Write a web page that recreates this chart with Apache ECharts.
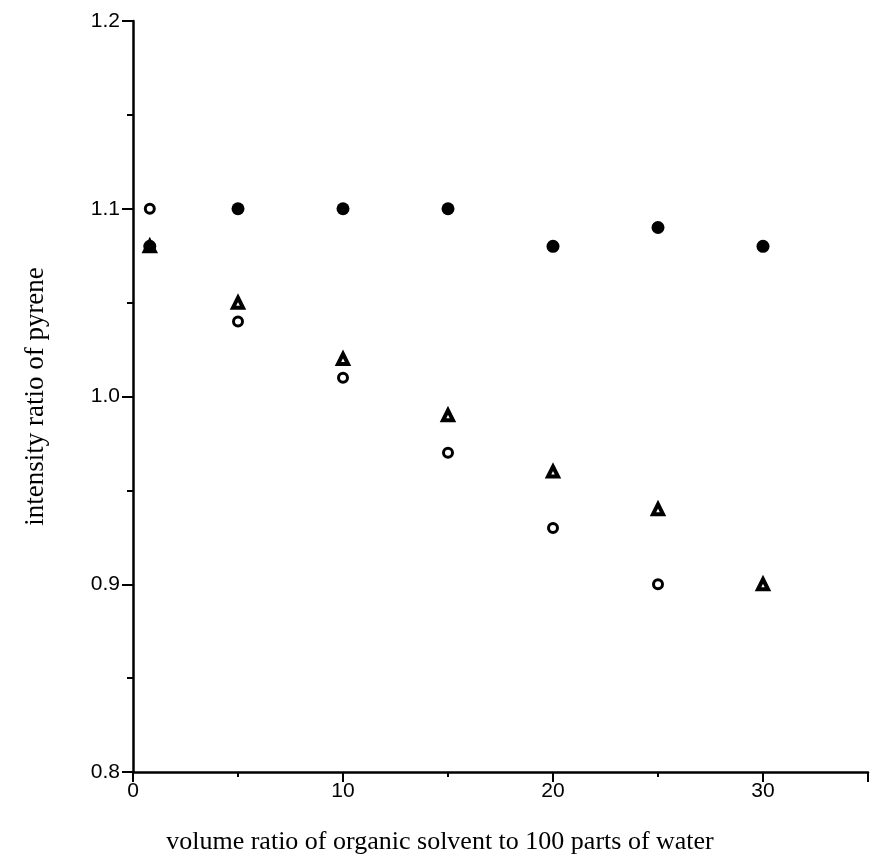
<!DOCTYPE html>
<html>
<head>
<meta charset="utf-8">
<script src="https://cdn.jsdelivr.net/npm/echarts@6/dist/echarts.min.js"></script>
<style>
    html, body { margin: 0; padding: 0; background: #fff; }
    #chart { width: 871px; height: 860px; }
</style>
</head>
<body>
<div id="chart"></div>
<script>
// 数据：横坐标（有机溶剂体积比）
const xOpen = [0.8, 5, 10, 15, 20, 25];
const yOpen = [1.10, 1.04, 1.01, 0.97, 0.93, 0.90];

const xFilled = [0.8, 5, 10, 15, 20, 25, 30];
const yFilled = [1.08, 1.10, 1.10, 1.10, 1.08, 1.09, 1.08];

const xTri = [0.8, 5, 10, 15, 20, 25, 30];
const yTri = [1.08, 1.05, 1.02, 0.99, 0.96, 0.94, 0.90];

const yTicks = [0.8, 0.9, 1.0, 1.1, 1.2];
const xTicks = [0, 10, 20, 30];

function pairs(xs, ys) {
    return xs.map((x, i) => [x, ys[i]]);
}

document.addEventListener('DOMContentLoaded', function() {
    const chart = echarts.init(document.getElementById('chart'));
    const labelFont = { color: '#000', fontSize: 21, fontFamily: 'Liberation Sans, Arial, sans-serif' };

    const option = {
        animation: false,
        backgroundColor: '#fff',
        grid: { left: 133, right: 1, top: 21, bottom: 88 },
        xAxis: [{
            type: 'value',
            min: 0,
            max: 35,
            interval: 5,
            axisLine: { lineStyle: { color: '#000', width: 2.5 } },
            axisTick: { length: 5, lineStyle: { color: '#000', width: 2 } },
            axisLabel: Object.assign({
                margin: 9,
                formatter: v => (xTicks.indexOf(v) >= 0 ? String(v) : '')
            }, labelFont),
            splitLine: { show: false }
        }, {
            type: 'value',
            min: 0,
            max: 35,
            interval: 10,
            position: 'bottom',
            axisLine: { show: false },
            axisTick: { length: 10, lineStyle: { color: '#000', width: 2 } },
            axisLabel: { show: false },
            splitLine: { show: false }
        }],
        yAxis: {
            type: 'value',
            min: 0.8,
            max: 1.2,
            interval: 0.1,
            name: 'intensity ratio of pyrene',
            nameLocation: 'middle',
            nameGap: 84,
            nameTextStyle: { color: '#000', fontSize: 27, fontFamily: 'Liberation Serif, Times New Roman, serif' },
            axisLine: { lineStyle: { color: '#000', width: 2.5 } },
            axisTick: { length: 11, lineStyle: { color: '#000', width: 2 } },
            minorTick: { show: true, splitNumber: 2, length: 6, lineStyle: { color: '#000', width: 2 } },
            axisLabel: Object.assign({
                margin: 13,
                formatter: v => v.toFixed(1)
            }, labelFont),
            splitLine: { show: false },
            minorSplitLine: { show: false }
        },
        graphic: [{
            type: 'text',
            x: 440,
            y: 842,
            style: {
                text: 'volume ratio of organic solvent to 100 parts of water',
                fill: '#000',
                font: '26px "Liberation Serif", "Times New Roman", serif',
                textAlign: 'center',
                textVerticalAlign: 'middle'
            }
        }],
        series: [{
            name: 'triangle',
            type: 'scatter',
            symbol: 'triangle',
            symbolSize: 10,
            data: pairs(xTri, yTri),
            itemStyle: { color: '#fff', borderColor: '#000', borderWidth: 4, opacity: 1 }
        }, {
            name: 'filled',
            type: 'scatter',
            symbol: 'circle',
            symbolSize: 13,
            data: pairs(xFilled, yFilled),
            itemStyle: { color: '#000', borderWidth: 0, opacity: 1 }
        }, {
            name: 'open',
            type: 'scatter',
            symbol: 'circle',
            symbolSize: 9,
            data: pairs(xOpen, yOpen),
            itemStyle: { color: '#fff', borderColor: '#000', borderWidth: 3, opacity: 1 }
        }]
    };

    chart.setOption(option);
});
</script>
</body>
</html>
